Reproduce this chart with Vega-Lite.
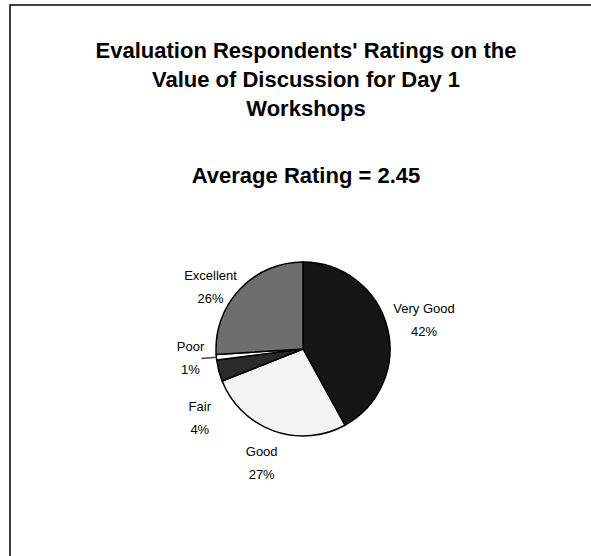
{
  "$schema": "https://vega.github.io/schema/vega-lite/v6.json",
  "width": 586,
  "height": 688,
  "autosize": "none",
  "padding": {"left": 10, "top": 5, "right": 0, "bottom": 0},
  "background": "white",
  "view": {"stroke": "black", "strokeWidth": 1.5, "fill": "white"},
  "config": {
    "view": {"stroke": "black", "strokeWidth": 1.5},
    "font": "Liberation Sans"
  },
  "title": {
    "text": ["Evaluation Respondents' Ratings on the", "Value of Discussion for Day 1", "Workshops"],
    "subtitle": "Average Rating = 2.45",
    "orient": "top",
    "anchor": "middle",
    "offset": -183,
    "dx": 3,
    "font": "Liberation Sans",
    "fontSize": 22,
    "fontWeight": "bold",
    "lineHeight": 29,
    "color": "black",
    "subtitleFont": "Liberation Sans",
    "subtitleFontSize": 22,
    "subtitleFontWeight": "bold",
    "subtitleColor": "black",
    "subtitlePadding": 45
  },
  "data": {
    "values": [
      {"rating": "Very Good", "pct": 42, "idx": 1, "label": ["Very Good", "42%"]},
      {"rating": "Good", "pct": 27, "idx": 2, "label": ["Good", "27%"]},
      {"rating": "Fair", "pct": 4, "idx": 3, "label": ["Fair", "4%"]},
      {"rating": "Poor", "pct": 1, "idx": 4, "label": ["Poor", "1%"]},
      {"rating": "Excellent", "pct": 26, "idx": 5, "label": ["Excellent", "26%"]}
    ]
  },
  "encoding": {
    "theta": {"field": "pct", "type": "quantitative", "stack": true},
    "order": {"field": "idx", "type": "quantitative"}
  },
  "layer": [
    {
      "mark": {"type": "arc", "outerRadius": 87, "stroke": "black", "strokeWidth": 1.5},
      "encoding": {
        "color": {
          "field": "rating",
          "type": "nominal",
          "scale": {
            "domain": ["Very Good", "Good", "Fair", "Poor", "Excellent"],
            "range": ["#151515", "#f3f3f3", "#2a2a2a", "#ffffff", "#6e6e6e"]
          },
          "legend": null
        }
      }
    },
    {
      "mark": {"type": "arc", "innerRadius": 87, "outerRadius": 102, "padAngle": 1, "fill": null, "fillOpacity": 0, "stroke": "#444444", "strokeWidth": 1.5},
      "encoding": {
        "strokeOpacity": {"condition": {"test": "datum.rating == 'Poor'", "value": 1}, "value": 0}
      }
    },
    {
      "mark": {"type": "text", "radius": 125, "dy": -9, "fontSize": 13, "font": "Liberation Sans", "lineHeight": 23, "color": "black"},
      "encoding": {"text": {"condition": {"test": "datum.rating == 'Very Good'", "field": "label"}, "value": ""}}
    },
    {
      "mark": {"type": "text", "radius": 122, "dy": -11.5, "fontSize": 13, "font": "Liberation Sans", "lineHeight": 23, "color": "black"},
      "encoding": {"text": {"condition": {"test": "datum.rating == 'Good'", "field": "label"}, "value": ""}}
    },
    {
      "mark": {"type": "text", "radius": 120, "dx": -5, "dy": 9, "fontSize": 13, "font": "Liberation Sans", "lineHeight": 23, "color": "black"},
      "encoding": {"text": {"condition": {"test": "datum.rating == 'Excellent'", "field": "label"}, "value": ""}}
    },
    {
      "mark": {"type": "text", "radius": 113, "dy": -12.5, "fontSize": 13, "font": "Liberation Sans", "lineHeight": 23, "color": "black"},
      "encoding": {"text": {"condition": {"test": "datum.rating == 'Poor'", "field": "label"}, "value": ""}}
    },
    {
      "mark": {"type": "text", "radius": 120, "dx": 13, "dy": 28, "fontSize": 13, "font": "Liberation Sans", "lineHeight": 23, "color": "black"},
      "encoding": {"text": {"condition": {"test": "datum.rating == 'Fair'", "field": "label"}, "value": ""}}
    }
  ]
}
